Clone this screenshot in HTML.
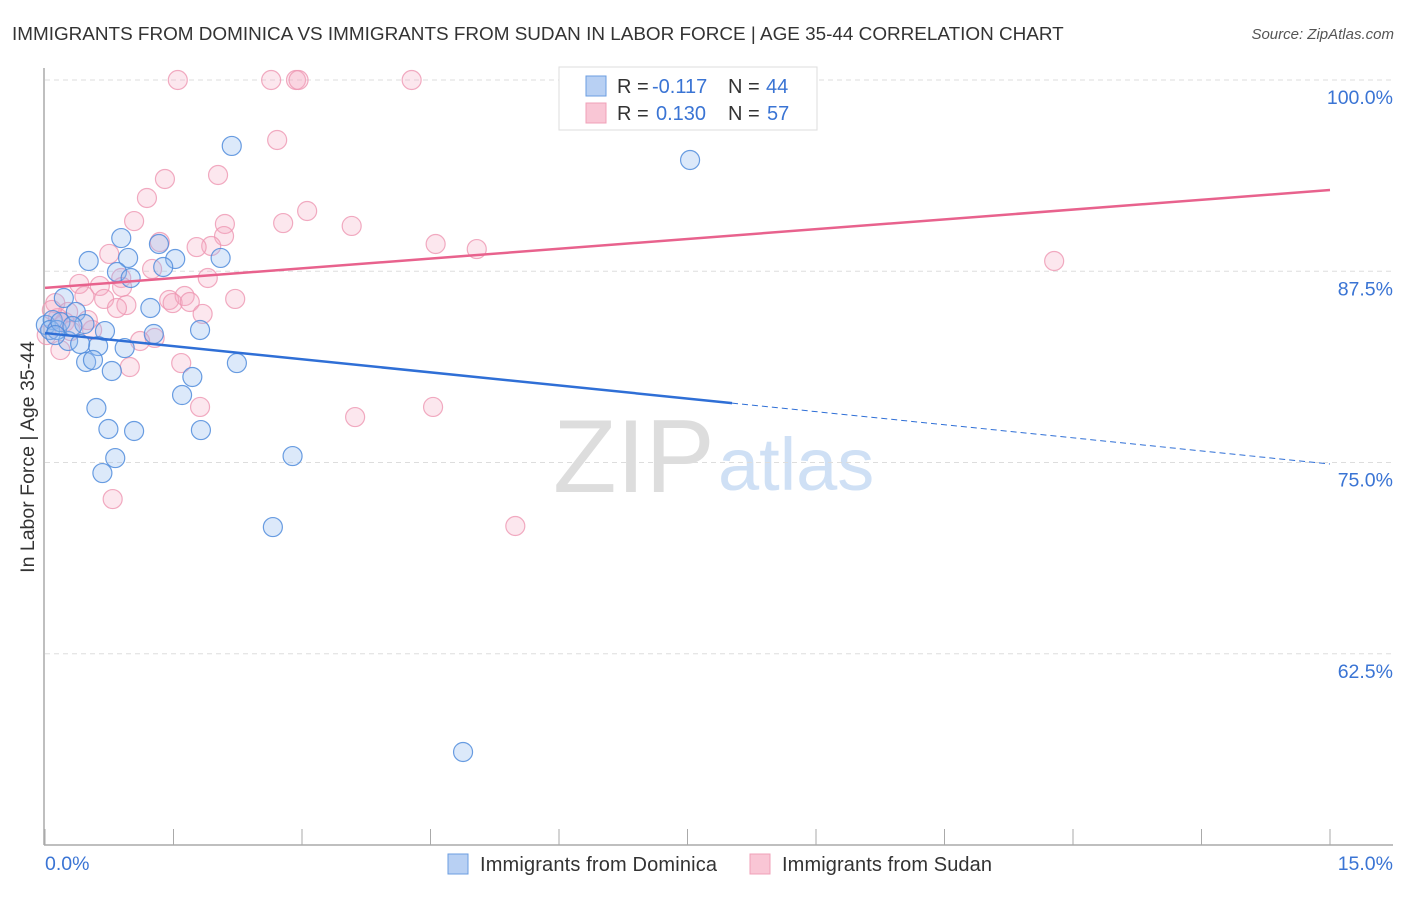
<!DOCTYPE html>
<html><head><meta charset="utf-8"><style>
body{margin:0;background:#fff;font-family:"Liberation Sans",sans-serif;}
svg text{font-family:"Liberation Sans",sans-serif;}
</style></head><body>
<svg id="chart" width="1406" height="892" xmlns="http://www.w3.org/2000/svg">
<text x="12" y="40" font-size="18.9" fill="#333">IMMIGRANTS FROM DOMINICA VS IMMIGRANTS FROM SUDAN IN LABOR FORCE | AGE 35-44 CORRELATION CHART</text>
<text x="1394" y="39" font-size="15" fill="#555" text-anchor="end" font-style="italic">Source: ZipAtlas.com</text>
<text x="553" y="492" font-size="104" fill="#ddd" font-family="Liberation Serif">ZIP</text>
<text x="718" y="490" font-size="74" fill="#cfe0f5">atlas</text>
<text transform="translate(34,457) rotate(-90)" font-size="19.5" fill="#333" text-anchor="middle">In Labor Force | Age 35-44</text>
<g id="grid"></g><g id="axes"></g><g id="pts"></g><g id="trend"></g>
<g>
<rect x="559" y="67" width="258" height="63" fill="#fff" stroke="#ddd"/>
<rect x="586" y="76" width="20" height="20" fill="#b8d0f3" stroke="#6b9ee0"/>
<rect x="586" y="103" width="20" height="20" fill="#f9c6d5" stroke="#f0a0b8"/>
<text x="617" y="93" font-size="20" fill="#333">R = <tspan x="652" fill="#3a74d4">-0.117</tspan><tspan x="728">N =</tspan><tspan x="766" fill="#3a74d4">44</tspan></text>
<text x="617" y="120" font-size="20" fill="#333">R = <tspan x="656" fill="#3a74d4">0.130</tspan><tspan x="728">N =</tspan><tspan x="767" fill="#3a74d4">57</tspan></text>
</g>
<g>
<rect x="448" y="854" width="20" height="20" fill="#b8d0f3" stroke="#6b9ee0"/>
<text x="480" y="871" font-size="20" fill="#333" textLength="237">Immigrants from Dominica</text>
<rect x="750" y="854" width="20" height="20" fill="#f9c6d5" stroke="#f0a0b8"/>
<text x="782" y="871" font-size="20" fill="#333" textLength="210">Immigrants from Sudan</text>
</g>
</svg>
<script>
const yTicks=[100,87.5,75,62.5];
const yTickLabels=["100.0%","87.5%","75.0%","62.5%"];
const xTickLabels=["0.0%","15.0%"];
const domX=[0.01,7.53,0.89,1.33,0.51,0.97,2.05,1.52,0.84,1.00,1.38,0.22,1.23,0.36,0.09,0.46,0.06,0.70,1.27,1.81,0.27,0.62,0.41,0.93,0.48,0.56,0.78,2.24,1.72,1.60,0.60,0.74,1.04,1.82,0.82,0.67,2.89,2.66,4.88,0.14,0.18,0.32,2.18,0.12];
const domY=[83.99,94.77,89.67,89.28,88.17,88.37,88.37,88.30,87.45,87.06,87.78,85.75,85.10,84.84,84.31,84.05,83.66,83.59,83.40,83.66,82.94,82.61,82.75,82.48,81.57,81.70,80.98,81.50,80.59,79.41,78.56,77.19,77.06,77.12,75.29,74.31,75.42,70.78,56.08,83.66,84.18,83.92,95.69,83.33];
const sudX=[1.55,2.64,2.93,2.96,4.28,2.71,1.40,2.02,1.19,1.04,2.10,3.06,2.78,3.58,2.09,1.34,1.94,1.77,4.56,5.04,0.75,1.25,0.89,1.90,0.40,0.64,0.90,11.78,0.46,0.69,1.45,1.63,1.49,1.69,2.22,0.95,0.84,0.12,1.84,0.27,0.15,0.55,0.23,1.28,1.11,0.02,0.18,1.59,0.99,1.81,3.62,4.53,0.79,5.49,0.08,0.50,0.30];
const sudY=[100,100,100,100,100,96.08,93.53,93.79,92.29,90.78,90.59,91.44,90.65,90.46,89.80,89.41,89.15,89.08,89.28,88.95,88.63,87.65,87.06,87.06,86.67,86.54,86.47,88.17,85.88,85.69,85.62,85.88,85.42,85.49,85.69,85.29,85.10,85.42,84.71,84.84,84.44,83.66,84.18,83.14,82.94,83.33,82.35,81.50,81.24,78.63,77.97,78.63,72.61,70.85,84.97,84.31,83.59];
const domTrend=[83.46,74.9]; const domSolidEnd=8.02;
const sudTrend=[86.41,92.81];
const NS="http://www.w3.org/2000/svg";
const X=v=>45+v*(1285/15), Y=v=>80+(100-v)*15.3;
function mk(t,a,p){const e=document.createElementNS(NS,t);for(const k in a)e.setAttribute(k,a[k]);p.appendChild(e);return e;}
const grid=document.getElementById('grid'),axes=document.getElementById('axes');
yTicks.forEach((t,i)=>{
 const l=mk('line',{x1:45,x2:1393,y1:Y(t),y2:Y(t),stroke:'#ddd','stroke-dasharray':'5,4'},grid);
 
 
 const tx=mk('text',{x:1393,y:Y(t)+24,'font-size':19.5,fill:'#3a74d4','text-anchor':'end'},axes);tx.textContent=yTickLabels[i];
 
 
});
mk('line',{x1:44,x2:44,y1:68,y2:845,stroke:'#aaa','stroke-width':1.5},axes);
mk('line',{x1:44,x2:1393,y1:845,y2:845,stroke:'#aaa','stroke-width':1.5},axes);
for(let i=0;i<=10;i++){const t=mk('line',{x1:X(i*1.5),x2:X(i*1.5),y1:829,y2:845,stroke:'#aaa'},axes);
 
 }
[[0,'start',45],[1,'end',1393]].forEach(([i,a,x])=>{const t=mk('text',{x:x,y:870,'font-size':19.5,fill:'#3a74d4','text-anchor':a},axes);t.textContent=xTickLabels[i];
 
 });
const pts=document.getElementById('pts');
sudX.forEach((v,i)=>{const c=mk('circle',{cx:X(v),cy:Y(sudY[i]),r:9.5,fill:'rgba(246,170,195,0.28)',stroke:'rgba(238,150,178,0.8)','stroke-width':1.2},pts);
 
 });
domX.forEach((v,i)=>{const c=mk('circle',{cx:X(v),cy:Y(domY[i]),r:9.5,fill:'rgba(150,188,240,0.33)',stroke:'rgba(80,140,220,0.85)','stroke-width':1.2},pts);
 
 });
const tr=document.getElementById('trend');
const dy=x=>domTrend[0]+(domTrend[1]-domTrend[0])*x/15;
let l1=mk('line',{x1:X(0),y1:Y(dy(0)),x2:X(domSolidEnd),y2:Y(dy(domSolidEnd)),stroke:'#2f6fd6','stroke-width':2.5},tr);


let l2=mk('line',{x1:X(domSolidEnd),y1:Y(dy(domSolidEnd)),x2:X(15),y2:Y(dy(15)),stroke:'#2f6fd6','stroke-width':1,'stroke-dasharray':'6,4'},tr);


let l3=mk('line',{x1:X(0),y1:Y(sudTrend[0]),x2:X(15),y2:Y(sudTrend[1]),stroke:'#e8628d','stroke-width':2.5},tr);


</script>
</body></html>
